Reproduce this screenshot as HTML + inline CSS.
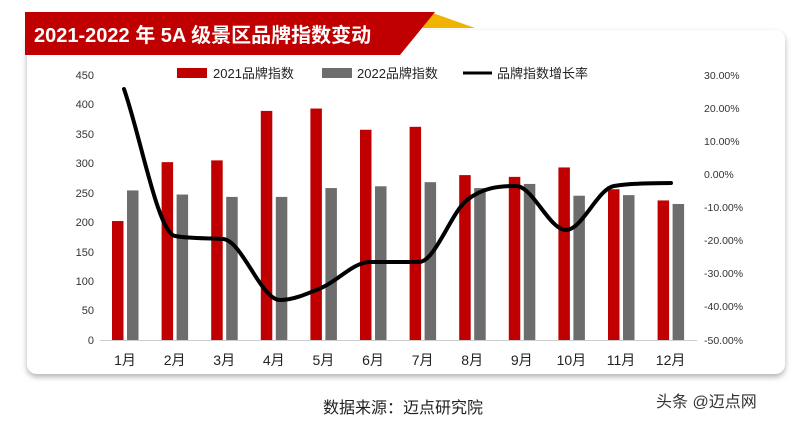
<!DOCTYPE html>
<html><head><meta charset="utf-8"><style>
html,body{margin:0;padding:0;background:#fff;}
svg{display:block;font-family:"Liberation Sans","Noto Sans CJK SC",sans-serif;}
</style></head><body>
<svg width="800" height="424" viewBox="0 0 800 424" xmlns="http://www.w3.org/2000/svg">
<defs><filter id="sh" x="-5%" y="-5%" width="110%" height="115%"><feDropShadow dx="0" dy="3" stdDeviation="3" flood-color="#000" flood-opacity="0.3"/></filter></defs>
<rect x="27" y="30" width="758" height="344" rx="10" fill="#fff" filter="url(#sh)"/>
<polygon points="430,12 475,28 420,28" fill="#f0b400"/>
<polygon points="25,12 435,12 400,55 25,55" fill="#c00000"/>
<text x="34" y="42" font-size="20" font-weight="bold" fill="#fff">2021-2022 年 5A 级景区品牌指数变动</text>
<g font-size="11" fill="#333" text-anchor="end">
<text x="94" y="79">450</text><text x="94" y="108">400</text><text x="94" y="138">350</text><text x="94" y="167">300</text><text x="94" y="197">250</text><text x="94" y="226">200</text><text x="94" y="256">150</text><text x="94" y="285">100</text><text x="94" y="314">50</text><text x="94" y="344">0</text>
</g>
<g font-size="10.5" fill="#333" text-anchor="start">
<text x="704" y="79">30.00%</text><text x="704" y="112">20.00%</text><text x="704" y="145">10.00%</text><text x="704" y="178">0.00%</text><text x="704" y="211">-10.00%</text><text x="704" y="244">-20.00%</text><text x="704" y="277">-30.00%</text><text x="704" y="310">-40.00%</text><text x="704" y="344">-50.00%</text>
</g>
<line x1="100" y1="340.5" x2="697" y2="340.5" stroke="#ccc"/>
<g id="bars"></g>
<path id="ln" fill="none" stroke="#000" stroke-width="4" stroke-linecap="round"/>
<g font-size="14" fill="#222" text-anchor="middle" id="xl"></g>
<rect x="177" y="68" width="30" height="10" fill="#c00000"/>
<text x="213" y="78" font-size="13" fill="#222">2021品牌指数</text>
<rect x="322" y="68" width="30" height="10" fill="#6d6d6d"/>
<text x="357" y="78" font-size="13" fill="#222">2022品牌指数</text>
<line x1="463" y1="73" x2="492" y2="73" stroke="#000" stroke-width="3"/>
<text x="497" y="78" font-size="13" fill="#222">品牌指数增长率</text>
<text x="323" y="413" font-size="16" fill="#222">数据来源：迈点研究院</text>
<text x="656" y="407" font-size="16" fill="#333">头条 @迈点网</text>
</svg>
<script>
var r=[202,302,305,389,393,357,362,280,277,293,256,237],g=[254,247,243,243,258,261,268,258,265,245,246,231];
var b='',x='',s=0.5889;
for(var i=0;i<12;i++){var c=125+i*49.6;
b+='<rect x="'+(c-13)+'" y="'+(340-r[i]*s)+'" width="11.5" height="'+(r[i]*s)+'" fill="#c00000"/>';
b+='<rect x="'+(c+2)+'" y="'+(340-g[i]*s)+'" width="11.5" height="'+(g[i]*s)+'" fill="#6d6d6d"/>';
x+='<text x="'+c+'" y="365">'+(i+1)+'月</text>';}
document.getElementById('bars').innerHTML=b;document.getElementById('xl').innerHTML=x;
var p=[[124,89],[175,236],[223,239],[280,300],[321,288],[370,262],[419,262],[467,200],[516,186],[566,230],[614,186],[671,183]];
var n=p.length,dl=[],m=[];
for(var i=0;i<n-1;i++)dl.push((p[i+1][1]-p[i][1])/(p[i+1][0]-p[i][0]));
for(var i=0;i<n;i++){if(i==0)m.push(dl[0]);else if(i==n-1)m.push(dl[n-2]);else if(dl[i-1]*dl[i]<=0)m.push(0);else m.push((dl[i-1]+dl[i])/2);}
for(var i=0;i<n-1;i++){if(dl[i]==0){m[i]=m[i+1]=0;continue;}var a=m[i]/dl[i],bb=m[i+1]/dl[i],t=a*a+bb*bb;if(t>9){var k=3/Math.sqrt(t);m[i]=k*a*dl[i];m[i+1]=k*bb*dl[i];}}
var d='M'+p[0];for(var i=0;i<n-1;i++){var h=(p[i+1][0]-p[i][0])/3;
d+=' C'+(p[i][0]+h)+','+(p[i][1]+m[i]*h)+' '+(p[i+1][0]-h)+','+(p[i+1][1]-m[i+1]*h)+' '+p[i+1];}
document.getElementById('ln').setAttribute('d',d);
</script>
</body></html>
